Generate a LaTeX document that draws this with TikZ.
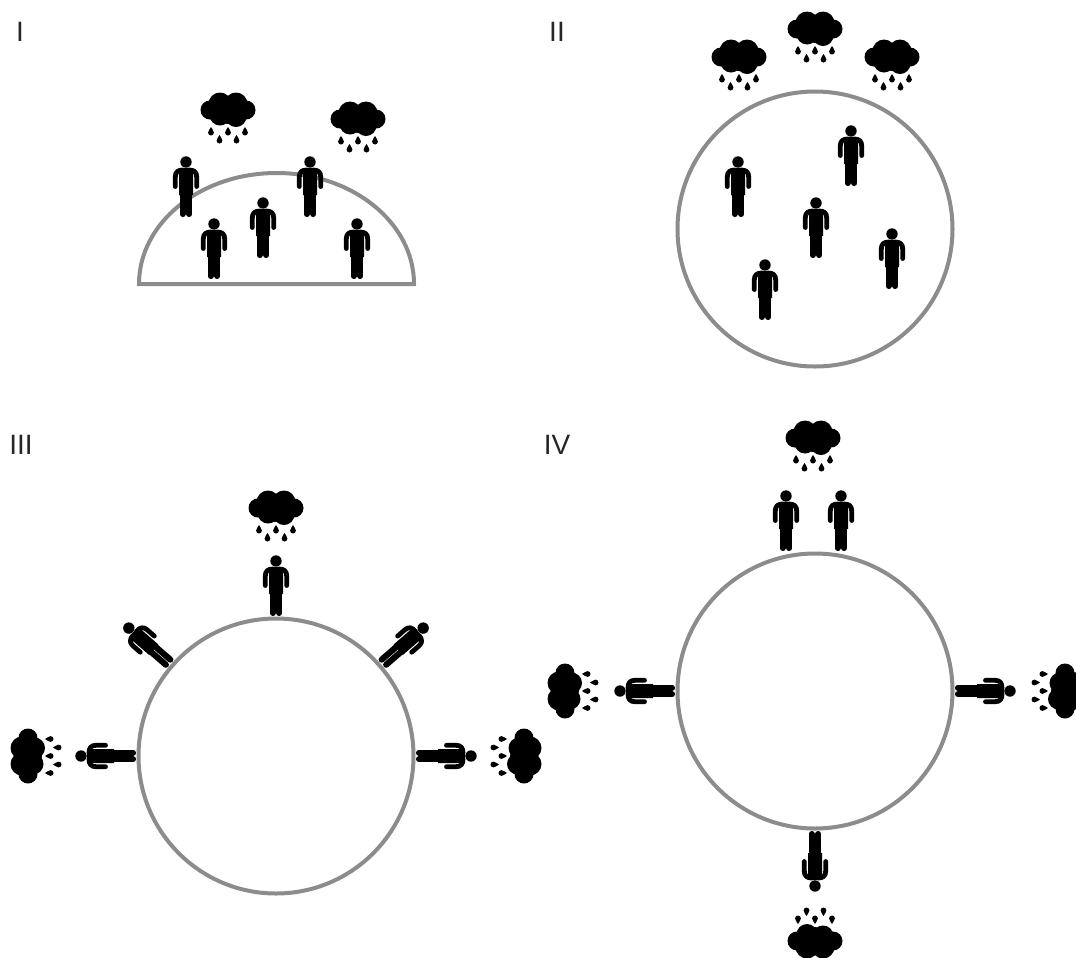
\documentclass[tikz,border=0pt]{standalone}
\usepackage{fontspec}
\setmainfont{Liberation Sans}
\tikzset{
  x=0.75pt, y=-0.75pt,
  ringline/.style={draw=black!45, line width=3pt},
  numeral/.style={font=\fontsize{21}{21}\selectfont, inner sep=0pt, text=black!85},
  rain/.pic={
    \fill (-18,0) circle[radius=9.5];
    \fill (18,0) circle[radius=9.5];
    \fill (-8,-6) circle[radius=11.5];
    \fill (8,-6) circle[radius=11.5];
    \fill (-8,5) circle[radius=10.5];
    \fill (0,4) circle[radius=10];
    \fill (8,6.5) circle[radius=10.5];
    \foreach \dx/\dy in {-17/22,0/22,17/22,-8.5/30,8.5/30}{
      \fill[shift={(\dx,\dy)}] (0,-5) .. controls (0.9,-2.8) and (2.9,-1.5) .. (2.9,0.6)
        .. controls (2.9,2.2) and (1.6,3.5) .. (0,3.5)
        .. controls (-1.6,3.5) and (-2.9,2.2) .. (-2.9,0.6)
        .. controls (-2.9,-1.5) and (-0.9,-2.8) .. (0,-5) -- cycle;
    }
  },
  man/.pic={
    \fill (0,-55) circle[radius=5.7];
    \fill (-7,-44) .. controls (-7,-47.5) and (-4.5,-49) .. (-2,-49) -- (2,-49)
      .. controls (4.5,-49) and (7,-47.5) .. (7,-44) -- (7,-22) -- (-7,-22) -- cycle;
    \draw[line width=3.6pt, line cap=round, line join=round]
      (-3,-47) .. controls (-8,-47) and (-10.7,-45) .. (-10.7,-40) -- (-10.7,-30.5);
    \draw[line width=3.6pt, line cap=round, line join=round]
      (3,-47) .. controls (8,-47) and (10.7,-45) .. (10.7,-40) -- (10.7,-30.5);
    \draw[line width=4.6pt, line cap=round] (-3.4,-24) -- (-3.4,-3);
    \draw[line width=4.6pt, line cap=round] (3.4,-24) -- (3.4,-3);
  }
}
\begin{document}
\begin{tikzpicture}
\useasboundingbox (0,0) rectangle (1076,958);
\clip (0,0) rectangle (1076,958);
% labels
\node[numeral] (lI) at (20,32) {I};
\node[numeral] (lII) at (557,32) {II};
\node[numeral] (lIII) at (21,445) {III};
\node[numeral] (lIV) at (557,445) {IV};
% panel I
\draw[ringline, line join=miter] (139,284) arc[start angle=180,end angle=360,x radius=137.5,y radius=111] -- cycle;
\foreach \a/\b in {186/217,214/279,263/258,310/217,357/279}{ \path (\a,\b) pic{man}; }
\path (228,110) pic{rain};
\path (358,119) pic{rain};
% panel II
\node[circle, ringline, minimum size=206.25pt, inner sep=0pt] (ringII) at (815,229) {};
\foreach \a/\b in {738/217,851/186,816/258,892/289,765/320}{ \path (\a,\b) pic{man}; }
\path (739,57) pic{rain};
\path (815,29) pic{rain};
\path (892,57) pic{rain};
% panel III
\node[circle, ringline, minimum size=206.25pt, inner sep=0pt] (ringIII) at (276,756) {};
\foreach \r in {0,49,-49,90,-90}{
  \begin{scope}[shift={(276,756)}, rotate=\r]
    \path (0,-140) pic[transform shape]{man};
  \end{scope}
}
\foreach \r in {0,90,-90}{
  \begin{scope}[shift={(276,756)}, rotate=\r]
    \path (0,-248) pic[transform shape]{rain};
  \end{scope}
}
% panel IV
\node[circle, ringline, minimum size=206.25pt, inner sep=0pt] (ringIV) at (815,691) {};
\path (786,551) pic{man};
\path (841,551) pic{man};
\path (813,438) pic{rain};
\foreach \r in {90,-90,180}{
  \begin{scope}[shift={(815,691)}, rotate=\r]
    \path (0,-140) pic[transform shape]{man};
    \path (0,-250) pic[transform shape]{rain};
  \end{scope}
}
\end{tikzpicture}
\end{document}
